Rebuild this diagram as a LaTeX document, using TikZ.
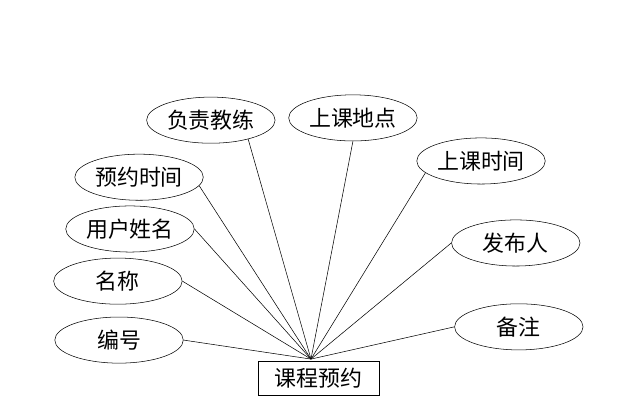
\documentclass[tikz,border=0pt]{standalone}
\usepackage{fontspec}
\newfontfamily\cjk{Noto Sans CJK SC}
\usepackage{tikz}
\usetikzlibrary{positioning,shapes.geometric}

\begin{document}
\begin{tikzpicture}[
    font=\cjk\fontsize{16.5pt}{19pt}\selectfont,
    attr/.style={draw,ellipse,thin,minimum width=3.4cm,minimum height=1.22cm,inner sep=0pt},
    entity/.style={draw,rectangle,thin,minimum width=3.2cm,minimum height=0.9cm,inner sep=0pt}]
  \useasboundingbox (0,0) rectangle (16.99,10.93);
  \node[entity] (kcyy) at (8.43,0.91) {课程预约};
  \coordinate (hub) at ([xshift=-0.2cm,yshift=0.06cm]kcyy.north);
  \foreach \n/\x/\y/\t in {fzjl/5.58/7.75/负责教练, skdd/9.34/7.81/上课地点,
      sksj/12.73/6.67/上课时间, fbr/13.65/4.50/发布人, bz/13.73/2.28/备注,
      yysj/3.68/6.24/预约时间, yhxm/3.44/4.87/用户姓名, mc/3.12/3.49/名称,
      bh/3.15/1.93/编号}
    \node[attr] (\n) at (\x,\y) {\t};
  \foreach \n/\a in {fzjl/-27, skdd/south, sksj/192, fbr/west, bz/west,
      yysj/-8, yhxm/east, mc/east, bh/east}
    \draw[thin] (\n.\a) -- (hub);
\end{tikzpicture}
\end{document}
